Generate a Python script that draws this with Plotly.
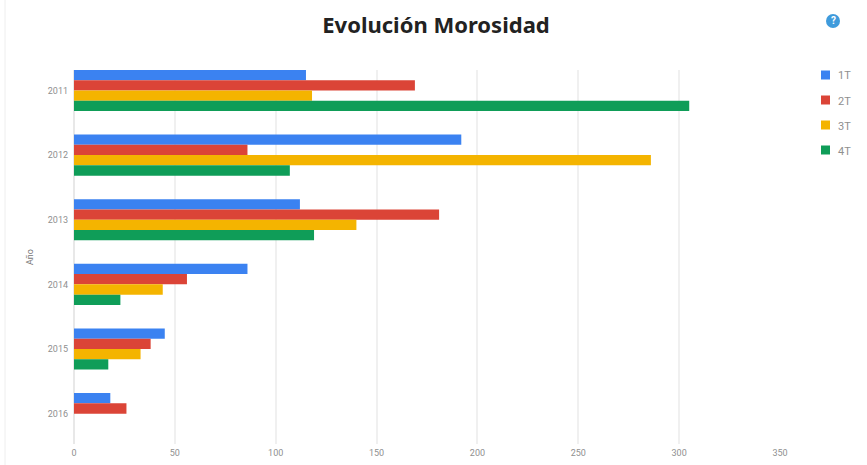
import plotly.graph_objects as go

years = ["2011", "2012", "2013", "2014", "2015", "2016"]
t1 = [115, 192, 112, 86, 45, 18]
t2 = [169, 86, 181, 56, 38, 26]
t3 = [118, 286, 140, 44, 33, None]
t4 = [305, 107, 119, 23, 17, None]
series_names = ["1T", "2T", "3T", "4T"]
series_values = [t1, t2, t3, t4]
colors = ["#3b82f1", "#db4437", "#f4b400", "#0f9d58"]
x_ticks = [0, 50, 100, 150, 200, 250, 300, 350]

W, H = 867, 465
L, R, T, B = 74, 780, 70, 444


def px(x):
    return (x - L) / (R - L)


def py(y):
    return (B - y) / (B - T)


fig = go.Figure()
for n, v, c in zip(series_names, series_values, colors):
    fig.add_trace(go.Bar(name=n, y=years, x=v, orientation="h", marker=dict(color=c, line=dict(width=0))))

shapes = [
    dict(type="line", xref="paper", yref="paper", x0=px(5), x1=px(5), y0=py(H), y1=py(0),
         line=dict(color="#eeeeee", width=1), layer="below"),
    dict(type="circle", xref="paper", yref="paper", x0=px(826), x1=px(840), y0=py(28), y1=py(14),
         fillcolor="#3f9bdc", line=dict(width=0)),
]
annotations = [
    dict(text="<b>?</b>", xref="paper", yref="paper", x=px(833), y=py(21), showarrow=False,
         font=dict(family="Roboto, sans-serif", size=10, color="white"), xanchor="center", yanchor="middle"),
]
for i, (n, c) in enumerate(zip(series_names, colors)):
    yc = 75 + 25 * i
    shapes.append(dict(type="rect", xref="paper", yref="paper", x0=px(821), x1=px(830), y0=py(yc + 4.5), y1=py(yc - 4.5),
                       fillcolor=c, line=dict(width=0)))
    annotations.append(dict(text=n, xref="paper", yref="paper", x=px(835.5), y=py(yc + 1), showarrow=False,
                            xanchor="left", yanchor="middle", font=dict(size=11, color="#8f8f8f")))

fig.update_layout(
    width=W, height=H, autosize=False,
    margin=dict(l=L, r=W - R, t=T, b=H - B, pad=0),
    paper_bgcolor="white", plot_bgcolor="white",
    font=dict(family="Roboto, Arial, sans-serif", color="#8f8f8f", size=9),
    barmode="group", bargap=0.365, bargroupgap=0,
    title=dict(text="<b>Evolución Morosidad</b>", x=436 / W, xanchor="center", y=1 - 25 / H, yanchor="middle",
               font=dict(family="Noto Sans, Open Sans, sans-serif", size=22, color="#222222")),
    showlegend=False,
    shapes=shapes,
    annotations=annotations,
)
fig.update_xaxes(range=[0, 350], tickvals=x_ticks, showgrid=True, gridcolor="#f0f0f0", gridwidth=2,
                 zeroline=True, zerolinecolor="#e8e8e8", zerolinewidth=2, showline=False, ticks="",
                 ticklabelstandoff=2, automargin=False, tickfont=dict(size=9, color="#8f8f8f"))
fig.update_yaxes(type="category", categoryorder="array", categoryarray=years, range=[5.47, -0.317],
                 showgrid=False, showline=False, ticks="", ticklabelstandoff=5, automargin=False,
                 title=dict(text="Año", font=dict(size=9, color="#777777"), standoff=12),
                 tickfont=dict(size=9, color="#8f8f8f"))
fig.write_html("out.html", config={"displayModeBar": False}, post_script="document.body.style.margin='0';")
